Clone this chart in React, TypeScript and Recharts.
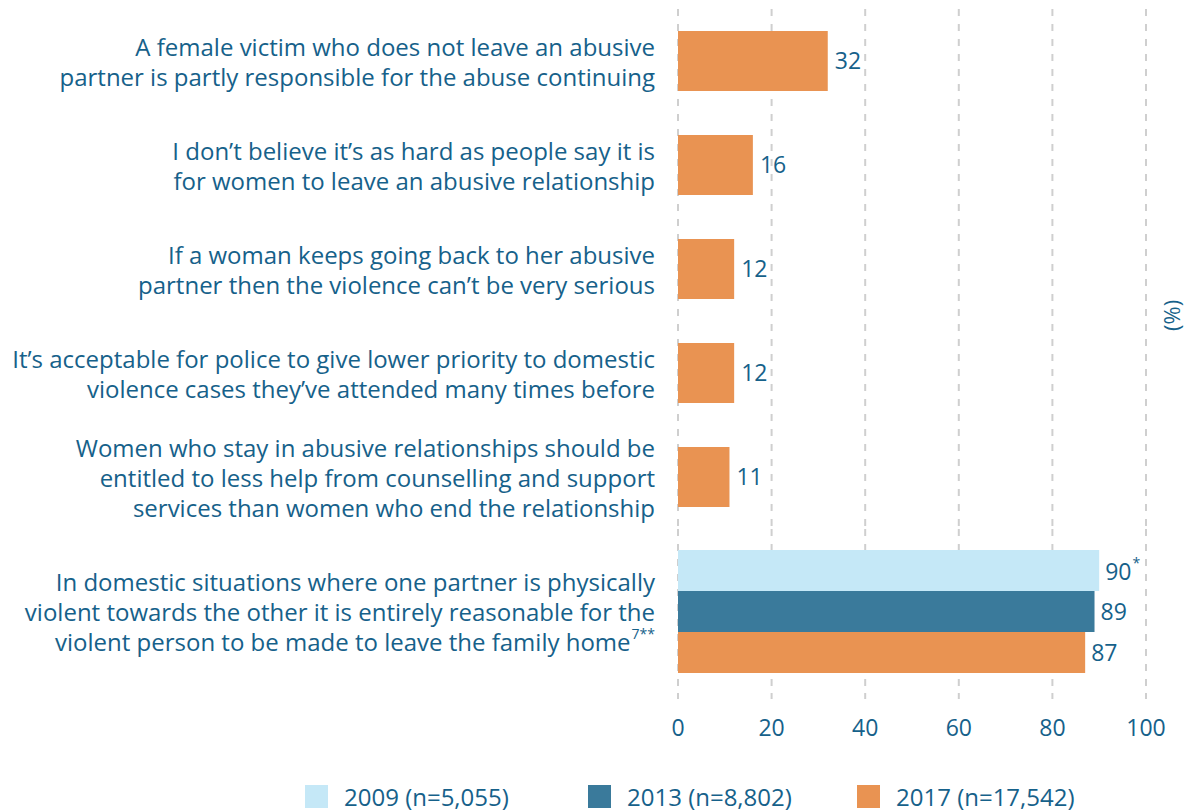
import { Bar, BarChart, CartesianGrid, LabelList, XAxis, YAxis } from "recharts";

const topCategories = ["victimBlame", "notHard", "goesBack", "policePriority", "lessHelp"];
const bottomCategories = ["leaveHome"];

const categoryLines: Record<string, string[]> = {
	victimBlame: [
		"A female victim who does not leave an abusive",
		"partner is partly responsible for the abuse continuing",
	],
	notHard: [
		"I don’t believe it’s as hard as people say it is",
		"for women to leave an abusive relationship",
	],
	goesBack: [
		"If a woman keeps going back to her abusive",
		"partner then the violence can’t be very serious",
	],
	policePriority: [
		"It’s acceptable for police to give lower priority to domestic",
		"violence cases they’ve attended many times before",
	],
	lessHelp: [
		"Women who stay in abusive relationships should be",
		"entitled to less help from counselling and support",
		"services than women who end the relationship",
	],
	leaveHome: [
		"In domestic situations where one partner is physically",
		"violent towards the other it is entirely reasonable for the",
		"violent person to be made to leave the family home",
	],
};

const categoryNotes: Record<string, string> = { leaveHome: "7**" };

const top2017 = [32, 16, 12, 12, 11];
const bottom2009 = [90];
const bottom2013 = [89];
const bottom2017 = [87];
const bottom2009Notes = ["*"];

const seriesNames = ["2009 (n=5,055)", "2013 (n=8,802)", "2017 (n=17,542)"];
const seriesColors = ["#c5e8f7", "#3a7a9b", "#e99352"];

const xTicks = [0, 20, 40, 60, 80, 100];

const TEXT = "#16618a";
const GRID = "#cfcfcf";

const topData = topCategories.map((key, i) => ({ key, y2017: top2017[i] }));
const bottomData = bottomCategories.map((key, i) => ({
	key,
	y2009: bottom2009[i],
	y2013: bottom2013[i],
	y2017: bottom2017[i],
}));

const CategoryTick = (props: any) => {
	const { x, y, payload } = props;
	const lines = categoryLines[payload.value] || [];
	const note = categoryNotes[payload.value];
	const lh = 30;
	const start = y - ((lines.length - 1) * lh) / 2;
	return (
		<g>
			{lines.map((line, i) => (
				<text key={i} x={x} y={start + i * lh} textAnchor="end" fill={TEXT} fontSize={24} dominantBaseline="central">
					{line}
					{note && i === lines.length - 1 ? (
						<tspan fontSize={14} dx={1} dy={-8}>
							{note}
						</tspan>
					) : null}
				</text>
			))}
		</g>
	);
};

const NoteLabel = (props: any) => {
	const { x, y, width, height, value, index } = props;
	const note = bottom2009Notes[index];
	return (
		<text x={x + width + 6} y={y + height / 2} fill={TEXT} fontSize={23} dominantBaseline="central">
			{value}
			<tspan fontSize={14} dx={1} dy={-9}>
				{note}
			</tspan>
		</text>
	);
};

const App = () => {
	return (
		<div style={{ position: "relative", width: 1176, height: 804, fontFamily: "'Open Sans', sans-serif" }}>
			<BarChart
				width={1176}
				height={521}
				data={topData}
				layout="vertical"
				margin={{ top: 1, right: 38, bottom: 0, left: 0 }}
			>
				<CartesianGrid horizontal={false} stroke={GRID} strokeWidth={2} strokeDasharray="7 8" />
				<XAxis type="number" domain={[0, 100]} ticks={xTicks} hide />
				<YAxis
					type="category"
					dataKey="key"
					width={670}
					axisLine={false}
					tickLine={false}
					tickSize={0}
					tickMargin={23}
					tick={<CategoryTick />}
				/>
				<Bar dataKey="y2017" name={seriesNames[2]} fill={seriesColors[2]} barSize={60} isAnimationActive={false}>
					<LabelList dataKey="y2017" position="right" offset={7} fill={TEXT} fontSize={23} />
				</Bar>
			</BarChart>
			<BarChart
				width={1176}
				height={224}
				data={bottomData}
				layout="vertical"
				barGap={0}
				margin={{ top: 0, right: 38, bottom: 0, left: 0 }}
			>
				<CartesianGrid horizontal={false} stroke={GRID} strokeWidth={2} strokeDasharray="7 8" />
				<XAxis
					type="number"
					domain={[0, 100]}
					ticks={xTicks}
					height={60}
					axisLine={false}
					tickSize={6}
					tickMargin={21}
					tickLine={{ stroke: GRID, strokeWidth: 2 }}
					tick={{ fill: TEXT, fontSize: 23 }}
				/>
				<YAxis
					type="category"
					dataKey="key"
					width={670}
					axisLine={false}
					tickLine={false}
					tickSize={0}
					tickMargin={23}
					tick={<CategoryTick />}
				/>
				<Bar dataKey="y2009" name={seriesNames[0]} fill={seriesColors[0]} barSize={41} isAnimationActive={false}>
					<LabelList dataKey="y2009" content={<NoteLabel />} />
				</Bar>
				<Bar dataKey="y2013" name={seriesNames[1]} fill={seriesColors[1]} barSize={41} isAnimationActive={false}>
					<LabelList dataKey="y2013" position="right" offset={6} fill={TEXT} fontSize={23} />
				</Bar>
				<Bar dataKey="y2017" name={seriesNames[2]} fill={seriesColors[2]} barSize={41} isAnimationActive={false}>
					<LabelList dataKey="y2017" position="right" offset={6} fill={TEXT} fontSize={23} />
				</Bar>
			</BarChart>
			<div style={{ display: "flex", marginTop: 32, paddingLeft: 297 }}>
				{seriesNames.map((name, i) => (
					<div key={name} style={{ display: "flex", alignItems: "center", width: i < 2 ? [283, 269][i] : "auto" }}>
						<span style={{ width: 23, height: 23, background: seriesColors[i], marginRight: 16 }} />
						<span style={{ color: TEXT, fontSize: 24, lineHeight: "23px" }}>{name}</span>
					</div>
				))}
			</div>
			<div
				style={{
					position: "absolute",
					left: 1151,
					top: 287,
					width: 24,
					height: 40,
					lineHeight: "24px",
					writingMode: "vertical-rl",
					transform: "rotate(180deg)",
					textAlign: "center",
					color: TEXT,
					fontSize: 22,
					whiteSpace: "nowrap",
				}}
			>
				(%)
			</div>
		</div>
	);
};

export default App;
